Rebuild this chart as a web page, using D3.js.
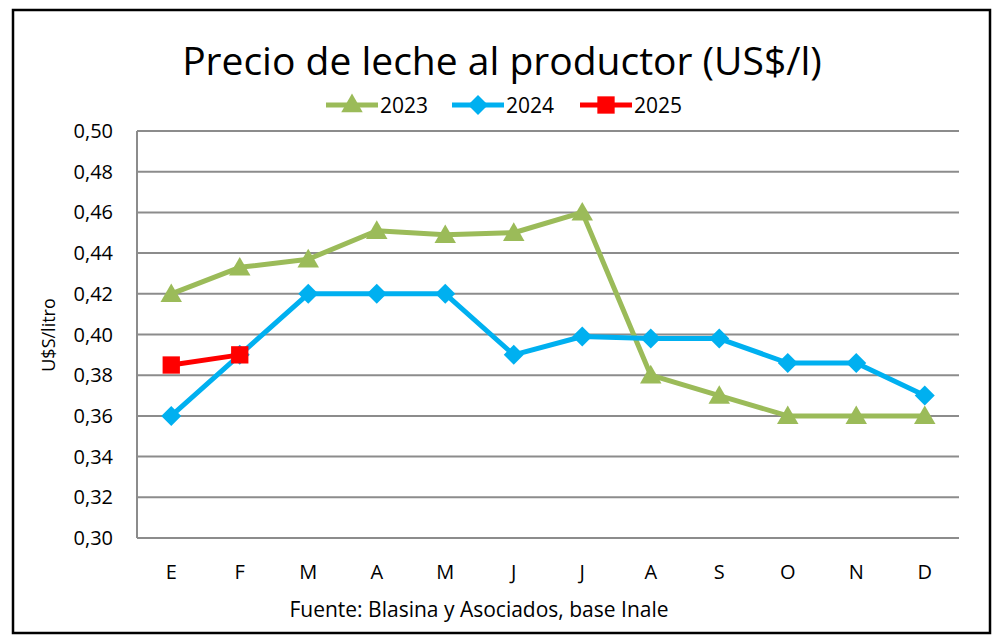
<!DOCTYPE html>
<html>
<head>
<meta charset="utf-8">
<script src="https://cdn.jsdelivr.net/npm/d3@7"></script>
<style>
  body { margin: 0; background: #fff; }
  text { font-family: "Open Sans", sans-serif; fill: #000; }
</style>
</head>
<body>
<svg id="chart" width="1000" height="640"></svg>
<script>
// months (Spanish initials)
var months = ['E','F','M','A','M','J','J','A','S','O','N','D'];
var yTicks = [0.30,0.32,0.34,0.36,0.38,0.40,0.42,0.44,0.46,0.48,0.50];
var v2023 = [0.420,0.433,0.437,0.451,0.449,0.450,0.460,0.380,0.370,0.360,0.360,0.360];
var v2024 = [0.360,0.390,0.420,0.420,0.420,0.390,0.399,0.398,0.398,0.386,0.386,0.370];
var v2025 = [0.385,0.390];

var series = [
  {name:'2023', values:v2023, color:'#9bbb59', marker:'triangle'},
  {name:'2024', values:v2024, color:'#00b0f0', marker:'diamond'},
  {name:'2025', values:v2025, color:'#ff0000', marker:'square'}
];

var svg = d3.select('#chart');
var pLeft = 137, pRight = 959, pTop = 131, pBottom = 538;

// outer frame
svg.append('rect')
  .attr('x',13).attr('y',10).attr('width',977).attr('height',623)
  .style('fill','none').style('stroke','#000').style('stroke-width',2.5);

var x = d3.scalePoint().domain(d3.range(months.length)).range([pLeft,pRight]).padding(0.5);
var y = d3.scaleLinear().domain([0.30,0.50]).range([pBottom,pTop]);

// gridlines
svg.append('g').selectAll('line')
  .data(yTicks)
  .enter().append('line')
    .attr('x1',pLeft).attr('x2',pRight)
    .attr('y1',function(d){ return y(d); }).attr('y2',function(d){ return y(d); })
    .style('stroke','#8c8c8c').style('stroke-width',2);

// y axis line
svg.append('line')
  .attr('x1',pLeft).attr('x2',pLeft).attr('y1',pTop).attr('y2',pBottom)
  .style('stroke','#8c8c8c').style('stroke-width',2);

// y tick labels
svg.append('g').selectAll('text')
  .data(yTicks)
  .enter().append('text')
    .attr('x',113).attr('y',function(d){ return y(d); })
    .attr('dy','0.35em').attr('text-anchor','end')
    .style('font-size','20px')
    .text(function(d){ return d.toFixed(2).replace('.',','); });

// x labels
svg.append('g').selectAll('text')
  .data(months)
  .enter().append('text')
    .attr('x',function(d,i){ return x(i); }).attr('y',579)
    .attr('text-anchor','middle')
    .style('font-size','20px')
    .text(function(d){ return d; });

// axis title
svg.append('text')
  .attr('transform','translate(55,335) rotate(-90)')
  .attr('text-anchor','middle')
  .style('font-size','18px')
  .text('U$S/litro');

// title
svg.append('text')
  .attr('x',502).attr('y',75).attr('text-anchor','middle')
  .style('font-size','39px')
  .text('Precio de leche al productor (US$/l)');

// source
svg.append('text')
  .attr('x',479).attr('y',617).attr('text-anchor','middle')
  .style('font-size','21px')
  .text('Fuente: Blasina y Asociados, base Inale');

// diamond = square turned 45 degrees
var symbols = {
  triangle: {gen: d3.symbol().type(d3.symbolTriangle).size(200), rot: 0, dy: 2},
  diamond: {gen: d3.symbol().type(d3.symbolSquare).size(200), rot: 45, dy: 0},
  square: {gen: d3.symbol().type(d3.symbolSquare).size(300), rot: 0, dy: 0}
};

var line = d3.line()
  .x(function(d,i){ return x(i); })
  .y(function(d){ return y(d); });

series.forEach(function(s) {
  var sym = symbols[s.marker];
  var g = svg.append('g');
  g.append('path')
    .attr('d', line(s.values))
    .style('fill','none').style('stroke',s.color).style('stroke-width',5)
    .style('stroke-linejoin','round');
  g.selectAll('path.m')
    .data(s.values)
    .enter().append('path')
      .classed('m',true)
      .attr('transform',function(d,i){ return 'translate(' + x(i) + ',' + (y(d) + sym.dy) + ') rotate(' + sym.rot + ')'; })
      .attr('d',sym.gen())
      .style('fill',s.color);
});

// legend
var legX = [326, 452, 580];
series.forEach(function(s,i) {
  var sym = symbols[s.marker];
  var g = svg.append('g').attr('transform','translate(' + legX[i] + ',105)');
  g.append('line').attr('x1',0).attr('x2',52).attr('y1',0).attr('y2',0)
    .style('stroke',s.color).style('stroke-width',5);
  g.append('path')
    .attr('transform','translate(26,' + (sym.dy / 2) + ') rotate(' + sym.rot + ')')
    .attr('d',sym.gen())
    .style('fill',s.color);
  g.append('text').attr('x',54).attr('y',0).attr('dy','0.36em')
    .style('font-size','21px')
    .text(s.name);
});
</script>
</body>
</html>
